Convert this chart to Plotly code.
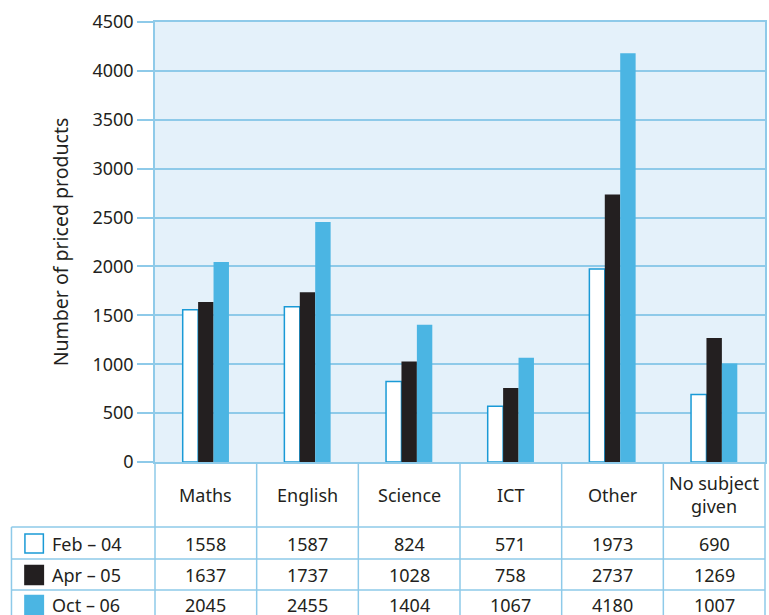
import plotly.graph_objects as go

categories = ["Maths", "English", "Science", "ICT", "Other", "No subject<br>given"]
series_names = ["Feb – 04", "Apr – 05", "Oct – 06"]
feb_04 = [1558, 1587, 824, 571, 1973, 690]
apr_05 = [1637, 1737, 1028, 758, 2737, 1269]
oct_06 = [2045, 2455, 1404, 1067, 4180, 1007]
y_ticks = [0, 500, 1000, 1500, 2000, 2500, 3000, 3500, 4000, 4500]

series_values = [feb_04, apr_05, oct_06]
fills = ["#ffffff", "#231f20", "#4bb5e3"]
outlines = ["#1a9ad6", "#231f20", "#4bb5e3"]
outline_w = [1.5, 0, 0]

W, H = 769, 615
L, R, T, B = 155, 767, 22, 462
GRID = "#8ecae9"
TXT = "#231f20"
FONT = "Noto Sans"
FS = 18

def px(x):
    return (x - L) / (R - L)

def py(y):
    return (B - y) / (B - T)

fig = go.Figure()
xs = list(range(len(categories)))
for name, vals, fc, lc, lw in zip(series_names, series_values, fills, outlines, outline_w):
    fig.add_trace(go.Bar(x=xs, y=vals, name=name, marker=dict(color=fc, line=dict(color=lc, width=lw)),
                         showlegend=False, hoverinfo="skip"))

shapes = []
line = dict(color=GRID, width=1.5)
# table horizontal lines
for yy in [527, 559, 590, 621]:
    shapes.append(dict(type="line", xref="paper", yref="paper", x0=px(11), x1=px(R), y0=py(yy), y1=py(yy), line=line, layer="above"))
# table vertical lines
col_w = (R - L) / len(categories)
for k in range(len(categories) + 1):
    xx = L + k * col_w
    shapes.append(dict(type="line", xref="paper", yref="paper", x0=px(xx), x1=px(xx), y0=py(B), y1=py(640), line=line, layer="above"))
shapes.append(dict(type="line", xref="paper", yref="paper", x0=px(11), x1=px(11), y0=py(527), y1=py(640), line=line, layer="above"))

# legend swatches in table
row_centers = [543.5, 575, 605]
for rc, fc, lc in zip(row_centers, fills, ["#1a9ad6", fills[1], fills[2]]):
    shapes.append(dict(type="rect", xref="paper", yref="paper", x0=px(24.5), x1=px(43), y0=py(rc - 9.5), y1=py(rc + 9.5),
                       fillcolor=fc, line=dict(color=lc, width=1.5), layer="above"))

annotations = []
for i, c in enumerate(categories):
    annotations.append(dict(x=i, y=py(494.5), xref="x", yref="paper", text=c, showarrow=False,
                            font=dict(family=FONT, size=FS, color=TXT), xanchor="center", yanchor="middle"))
for rc, name, vals in zip(row_centers, series_names, series_values):
    annotations.append(dict(x=px(50), y=py(rc), xref="paper", yref="paper", text=name, showarrow=False,
                            font=dict(family=FONT, size=FS, color=TXT), xanchor="left", yanchor="middle"))
    for i, v in enumerate(vals):
        annotations.append(dict(x=i, y=py(rc), xref="x", yref="paper", text=str(v), showarrow=False,
                                font=dict(family=FONT, size=FS, color=TXT), xanchor="center", yanchor="middle"))

fig.update_layout(
    width=W, height=H,
    margin=dict(l=L, r=W - R, t=T, b=H - B, pad=0),
    paper_bgcolor="white", plot_bgcolor="#e4f1fa",
    barmode="group", bargap=0.545, bargroupgap=0,
    shapes=shapes, annotations=annotations,
    font=dict(family=FONT, size=FS, color=TXT),
)
fig.update_xaxes(range=[-0.5, len(categories) - 0.5], showticklabels=False, showgrid=False,
                 showline=True, mirror=True, linecolor=GRID, linewidth=1.5, zeroline=False, ticks="")
fig.update_yaxes(range=[0, 4500], tickvals=y_ticks, ticktext=[str(t) for t in y_ticks],
                 showgrid=True, gridcolor=GRID, gridwidth=1.5, showline=True, mirror=True,
                 linecolor=GRID, linewidth=1.5, zeroline=False,
                 ticks="outside", ticklen=16, tickcolor=GRID, tickwidth=1.5,
                 tickfont=dict(family=FONT, size=FS, color=TXT),
                 title=dict(text="Number of priced products", font=dict(family=FONT, size=19.5, color=TXT), standoff=19))

fig.write_html("out.html", config={"displayModeBar": False},
               post_script="document.body.style.margin='0';document.body.style.overflow='hidden';")
